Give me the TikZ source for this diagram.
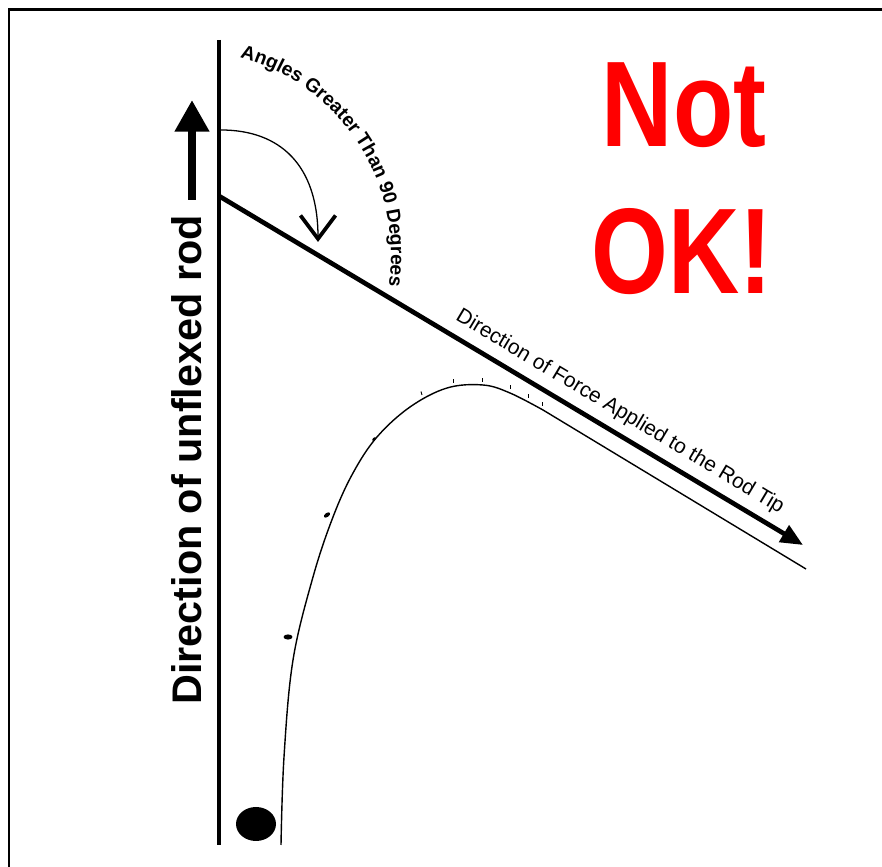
\documentclass[tikz,border=0pt]{standalone}
\usepackage{fontspec}
\setmainfont{Liberation Sans}
\usepackage{graphicx}
\usetikzlibrary{arrows.meta,decorations.text}

\begin{document}
\begin{tikzpicture}[x=0.03cm, y=0.03cm,
  frameline/.style={line width=2.5pt},
  rodline/.style={line width=3.4pt},
  uparrow/.style={line width=6.8pt, -{Triangle[length=27pt, width=28pt]}},
  forceline/.style={line width=4pt, -{Triangle[length=19pt, width=16pt]}},
  pathline/.style={line width=1.2pt},
  swingarrow/.style={line width=1.1pt, -{Straight Barb[length=20pt, width=30pt, line width=3.2pt]}},
  bigred/.style={text=red, font=\fontsize{104}{125}\selectfont\bfseries, inner sep=0pt},
  rodlbl/.style={font=\fontsize{35.3}{40}\selectfont\bfseries, inner sep=0pt},
  forcelbl/.style={font=\fontsize{17.9}{20}\selectfont, inner sep=0pt},
]
\useasboundingbox (0,0) rectangle (882,867);
\draw[frameline] (9,0) -- (9,857.5) -- (882,857.5);
\draw[rodline] (219,827) -- (219,22);
\draw[uparrow] (192,667) -- (192,767);
\node[rodlbl, rotate=90] (rodtext) at (187,407) {Direction of unflexed rod};
\draw[forceline] (219,671) -- (803,322);
\node[forcelbl, rotate=-30.86] (forcetext) at (620,455) {Direction of Force Applied to the Rod Tip};
\draw[swingarrow] (221,737) .. controls (280,737) and (318,702) .. (318,625);
\path[decorate, decoration={text along path, text align=center,
  text={|\fontsize{16.5}{18}\selectfont\bfseries|Angles Greater Than 90 Degrees}}]
  (186,612) ++(80:205) arc[start angle=80, end angle=-14, radius=205];
\node[bigred, anchor=base] (nottext) at (684,720) {\scalebox{0.81}[1]{Not}};
\node[bigred, anchor=base] (oktext) at (682,573) {\scalebox{0.81}[1]{OK!}};
\draw[pathline] plot[smooth, tension=0.6] coordinates {(281,22) (284,110) (293,207)
  (313,290) (333,350) (353,394) (377,430) (410,460) (447,479) (483,482) (510,474)
  (543,457)} -- (806,298);
\fill (288,230) ellipse [x radius=4.5, y radius=2.6];
\fill[rotate around={35:(327,352)}] (327,352) ellipse [x radius=3.6, y radius=2];
\fill[rotate around={45:(374,428)}] (374,428) ellipse [x radius=2.2, y radius=1.2];
\draw[line width=0.8pt] (422,472) -- ++(-1,3.5);
\draw[line width=0.8pt] (453,484) -- ++(0,3.5);
\draw[line width=0.8pt] (482,485) -- ++(0,3.5);
\draw[line width=0.8pt] (510,478) -- ++(0,3.5);
\draw[line width=0.8pt] (528,469) -- ++(0,3.5);
\draw[line width=0.8pt] (542,461) -- ++(0,3.5);
\fill (256,43) ellipse [x radius=20, y radius=17];
\end{tikzpicture}
\end{document}
